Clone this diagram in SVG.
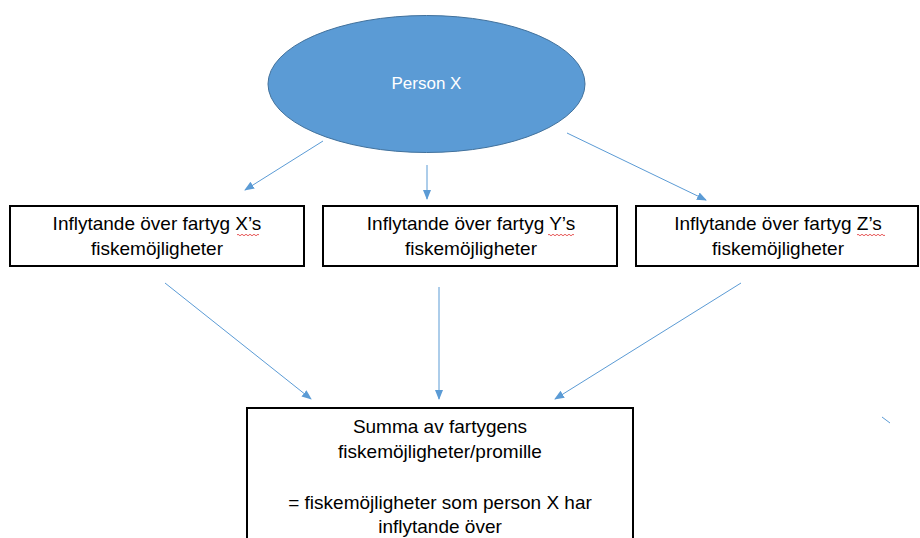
<svg xmlns="http://www.w3.org/2000/svg" width="920" height="538" viewBox="0 0 920 538">
<defs>
<style>
.box{fill:#fff;stroke:#000;stroke-width:2}
.t{font-family:"Liberation Sans",Arial,sans-serif;font-size:19px;fill:#000;text-anchor:middle}
.c{stroke:#5B9BD5;stroke-width:1;fill:none}
.sq{stroke:#E03030;stroke-width:0.8;fill:none}
</style>
<marker id="ah" viewBox="0 0 10 10" refX="9" refY="5" markerWidth="10" markerHeight="10" markerUnits="userSpaceOnUse" orient="auto">
<path d="M0,1 L10,5 L0,9 z" fill="#5B9BD5"/>
</marker>
</defs>
<rect width="920" height="538" fill="#fff"/>
<g id="person">
<ellipse cx="426.5" cy="84" rx="158.5" ry="68.5" fill="#5B9BD5" stroke="#41719C" stroke-width="1"/>
<text x="426.5" y="89" font-family="'Liberation Sans',Arial,sans-serif" font-size="17" fill="#fff" text-anchor="middle">Person X</text>
</g>
<g id="boxX">
<rect class="box" x="10" y="206" width="294" height="60"/>
<text class="t" x="157" y="230">Inflytande över fartyg X’s</text>
<text class="t" x="157" y="254.5">fiskemöjligheter</text>
<path class="sq" d="M237,235 q1,-1.5 2,0 t2,0 t2,0 t2,0 t2,0 t2,0 t2,0 t2,0 t2,0 t2,0 t2,0"/>
</g>
<g id="boxY">
<rect class="box" x="323" y="206" width="294" height="60"/>
<text class="t" x="471" y="230">Inflytande över fartyg Y’s</text>
<text class="t" x="471" y="254.5">fiskemöjligheter</text>
<path class="sq" d="M548,235 q1,-1.5 2,0 t2,0 t2,0 t2,0 t2,0 t2,0 t2,0 t2,0 t2,0 t2,0 t2,0 t2,0 t2,0"/>
</g>
<g id="boxZ">
<rect class="box" x="636" y="206" width="282" height="60"/>
<text class="t" x="778" y="230">Inflytande över fartyg Z’s</text>
<text class="t" x="778" y="254.5">fiskemöjligheter</text>
<path class="sq" d="M857,235 q1,-1.5 2,0 t2,0 t2,0 t2,0 t2,0 t2,0 t2,0 t2,0 t2,0 t2,0 t2,0 t2,0 t2,0 t2,0"/>
</g>
<g id="summa">
<rect class="box" x="247" y="408" width="386" height="140"/>
<text class="t" x="440" y="433">Summa av fartygens</text>
<text class="t" x="440" y="458">fiskemöjligheter/promille</text>
<text class="t" x="440" y="509">= fiskemöjligheter som person X har</text>
<text class="t" x="440" y="533">inflytande över</text>
</g>
<g id="connectors">
<line class="c" x1="323" y1="141" x2="245" y2="190" marker-end="url(#ah)"/>
<line class="c" x1="427" y1="165" x2="427" y2="199" marker-end="url(#ah)"/>
<line class="c" x1="567" y1="133" x2="706" y2="200" marker-end="url(#ah)"/>
<line class="c" x1="165" y1="283" x2="311" y2="399" marker-end="url(#ah)"/>
<line class="c" x1="439" y1="287" x2="439" y2="399" marker-end="url(#ah)"/>
<line class="c" x1="741" y1="283" x2="555" y2="399" marker-end="url(#ah)"/>
<line class="c" x1="882" y1="417" x2="890" y2="423"/>
</g>
</svg>
